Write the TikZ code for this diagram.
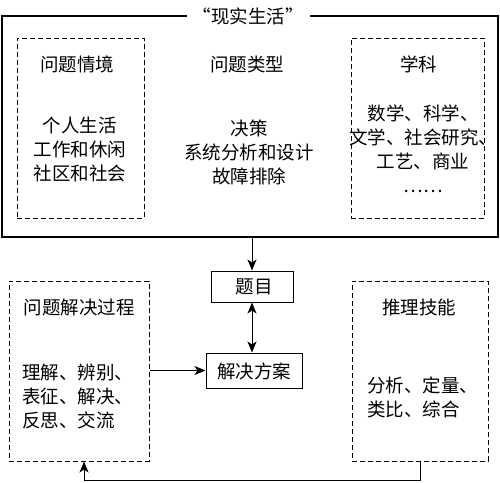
\documentclass[tikz,border=0pt]{standalone}
\usepackage{fontspec}
\setmainfont{Noto Sans CJK SC}
\usetikzlibrary{arrows.meta}
\tikzset{
  x=1pt,y=1pt,
  dbox/.style={draw,line width=1pt,dash pattern=on 5pt off 3pt,inner sep=0pt},
  sbox/.style={draw,line width=1pt,inner sep=0pt},
  txt/.style={inner sep=0pt,align=center,font=\fontsize{18.5}{24}\selectfont},
  ltxt/.style={inner sep=0pt,align=left,font=\fontsize{18.5}{24}\selectfont},
  arr/.style={line width=1pt,-{Stealth[length=11pt,width=9pt,inset=3pt]}},
  darr/.style={line width=1pt,{Stealth[length=11pt,width=9pt,inset=3pt]}-{Stealth[length=11pt,width=9pt,inset=3pt]}}
}
\begin{document}
\begin{tikzpicture}
\useasboundingbox (0,0) rectangle (500,-482);
% outer box
\node[sbox,line width=1.3pt,minimum width=496pt,minimum height=221pt] (outer) at (250,-126.5) {};
\node[txt,fill=white,inner xsep=6pt,inner ysep=2pt] (title) at (248,-16) {“现实生活”};
% upper dashed boxes
\node[dbox,minimum width=127pt,minimum height=180pt] (ps) at (80.5,-128) {};
\node[dbox,minimum width=133pt,minimum height=180pt] (sb) at (417.5,-128) {};
% upper texts
\node[txt] (pst) at (77,-64) {问题情境};
\node[txt] (psb) at (80,-149.5) {个人生活\\工作和休闲\\社区和社会};
\node[txt] (ptt) at (247,-64) {问题类型};
\node[txt] (ptb) at (249,-152.5) {决策\\系统分析和设计\\故障排除};
\node[txt] (sbt) at (418.5,-64) {学科};
\node[txt] (sbb) at (423,-148.5) {数学、科学、\\文学、社会研究、\\工艺、商业\\……};
% middle boxes
\node[sbox,minimum width=82pt,minimum height=31pt] (ti) at (252,-286.5) {};
\node[txt] (tit) at (254,-287) {题目};
\node[sbox,minimum width=96pt,minimum height=35pt] (fa) at (254,-370.5) {};
\node[txt] (fat) at (254,-371) {解决方案};
% lower dashed boxes
\node[dbox,minimum width=140pt,minimum height=180pt] (pb) at (79,-371) {};
\node[dbox,minimum width=136pt,minimum height=180pt] (rs) at (420,-371) {};
\node[txt] (pbt) at (79,-307) {问题解决过程};
\node[ltxt,anchor=west] (pbb) at (22,-396.5) {理解、辨别、\\表征、解决、\\反思、交流};
\node[txt] (rst) at (419,-307) {推理技能};
\node[ltxt,anchor=west] (rsb) at (367,-397) {分析、定量、\\类比、综合};
% connectors
\draw[arr] (ti.north |- outer.south) -- (ti.north);
\draw[darr] (ti.south) -- (ti.south |- fa.north);
\draw[arr] (pb.east |- fa.west) -- (fa.west);
\coordinate (cb) at (84,-480);
\draw[arr] (rs.south) |- (cb) -- (cb |- pb.south);
\end{tikzpicture}
\end{document}
